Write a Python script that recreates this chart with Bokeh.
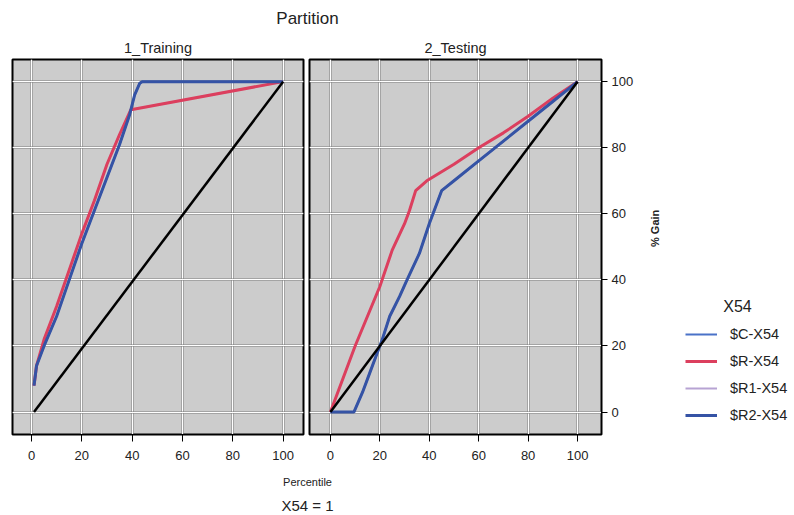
import math
from bokeh.plotting import figure
from bokeh.layouts import column, row
from bokeh.models import (Label, Legend, LegendItem, FixedTicker, Grid, Range1d)
from bokeh.embed import file_html
from bokeh.resources import INLINE

# ---------------- data ----------------
chart_title = "Partition"
panel_titles = ["1_Training", "2_Testing"]
x_label = "Percentile"
y_label = "% Gain"
footer_text = "X54 = 1"
legend_title = "X54"
x_ticks = [0, 20, 40, 60, 80, 100]
y_ticks = [0, 20, 40, 60, 80, 100]

series_names = ["$C-X54", "$R-X54", "$R1-X54", "$R2-X54"]
series_colors = ["#4a72c8", "#dc3f5e", "#b7a3d3", "#3553a5"]
series_widths = [2, 3, 2, 3]

# Training
train_base_pct = [1, 100]
train_base_gain = [0, 100]
train_R_pct = [1, 2, 5, 10, 15, 20, 25, 30, 35, 39.5, 100]
train_R_gain = [8, 14, 22, 32, 43, 54, 64, 75, 84, 91.5, 100]
train_C_pct = [1, 2, 5, 10, 15, 20, 25, 30, 35, 39, 41, 43, 44, 100]
train_C_gain = [8, 14, 20, 29, 40, 51, 61, 71, 81, 90, 96, 99.5, 100, 100]

# Testing
test_base_pct = [0, 100]
test_base_gain = [0, 100]
test_R_pct = [0, 5, 10, 15, 20, 25, 30, 32, 34.5, 39, 50, 60, 70, 80, 90, 100]
test_R_gain = [0, 10, 20, 29, 38, 49, 57, 61, 67, 70, 75, 80, 84.5, 89.5, 95, 100]
test_C_pct = [0, 9.5, 13, 16, 19, 21, 24, 28, 31, 36, 40, 45, 50, 60, 70, 80, 90, 100]
test_C_gain = [0, 0, 6, 12, 18, 22, 29, 35, 40, 48, 57, 67, 70, 76, 82, 88, 94, 100]

FONT = "Liberation Sans"
TXT = "#222222"
PANEL_H = 437


def make_panel(title, width, bl, br, xr, right_axis):
    p = figure(width=width, height=PANEL_H, output_backend="svg", toolbar_location=None,
               x_range=Range1d(*xr), y_range=Range1d(-6.8, 106.7),
               y_axis_location="right" if right_axis else None,
               min_border_left=bl, min_border_right=br, min_border_top=26, min_border_bottom=36,
               background_fill_color="#cccccc", border_fill_color="white",
               outline_line_color="black", outline_line_width=2, title=title)
    p.title.align = "center"
    p.title.text_font = FONT
    p.title.text_font_size = "14.5px"
    p.title.text_font_style = "normal"
    p.title.text_color = TXT
    p.title.standoff = 7
    p.grid.visible = False
    for dim, ticks in ((0, x_ticks), (1, y_ticks)):
        p.add_layout(Grid(dimension=dim, ticker=FixedTicker(ticks=ticks),
                          grid_line_color="#7c7c7c", grid_line_width=2))
        p.add_layout(Grid(dimension=dim, ticker=FixedTicker(ticks=ticks),
                          grid_line_color="white", grid_line_width=1))
    ax = p.xaxis[0]
    ax.ticker = FixedTicker(ticks=x_ticks)
    ax.major_label_text_font = FONT
    ax.major_label_text_font_size = "13px"
    ax.major_label_text_color = TXT
    ax.major_tick_out = 7
    ax.major_tick_in = 0
    ax.minor_tick_out = 0
    ax.minor_tick_in = 0
    ax.axis_line_color = "black"
    ax.major_tick_line_color = "black"
    ax.major_label_standoff = 9
    if right_axis:
        ay = p.yaxis[0]
        ay.ticker = FixedTicker(ticks=y_ticks)
        ay.major_label_text_font = FONT
        ay.major_label_text_font_size = "13px"
        ay.major_label_text_color = TXT
        ay.major_tick_out = 6
        ay.major_tick_in = 0
        ay.minor_tick_out = 0
        ay.minor_tick_in = 0
        ay.axis_line_color = "black"
        ay.major_label_standoff = 4
        ay.axis_label = y_label
        ay.axis_label_text_font = FONT
        ay.axis_label_text_font_size = "11px"
        ay.axis_label_text_font_style = "bold"
        ay.axis_label_text_color = TXT
        ay.axis_label_standoff = 19
        ay.axis_label_orientation = math.pi / 2
    return p


left = make_panel(panel_titles[0], 306, 12, 3, (-7.55, 108.1), False)
right = make_panel(panel_titles[1], 364, 3, 68, (-8.47, 109.7), True)


def draw(p, c_x, c_y, r_x, r_y, b_x, b_y):
    p.line(c_x, c_y, line_color=series_colors[0], line_width=series_widths[0])
    p.line(r_x, r_y, line_color=series_colors[2], line_width=series_widths[2])
    p.line(r_x, r_y, line_color=series_colors[1], line_width=series_widths[1])
    p.line(c_x, c_y, line_color=series_colors[3], line_width=series_widths[3])
    p.line(b_x, b_y, line_color="black", line_width=2.5)


draw(left, train_C_pct, train_C_gain, train_R_pct, train_R_gain, train_base_pct, train_base_gain)
draw(right, test_C_pct, test_C_gain, test_R_pct, test_R_gain, test_base_pct, test_base_gain)

# legend panel (its own canvas)
lg = figure(width=124, height=PANEL_H, output_backend="svg", toolbar_location=None,
            x_axis_location=None, y_axis_location=None,
            min_border_left=0, min_border_right=0, min_border_top=26, min_border_bottom=36,
            outline_line_color=None, background_fill_color="white", border_fill_color="white",
            x_range=Range1d(0, 1), y_range=Range1d(0, 1))
lg.grid.visible = False
nan = float("nan")
swatches = [lg.line([nan], [nan], line_color=c, line_width=w) for c, w in zip(series_colors, series_widths)]
legend = Legend(items=[LegendItem(label=n, renderers=[r]) for n, r in zip(series_names, swatches)],
                location=(15, 9), background_fill_alpha=0, border_line_color=None,
                label_text_font=FONT, label_text_font_size="14.5px", label_text_color=TXT,
                glyph_width=32, glyph_height=20, label_height=20, spacing=7,
                label_standoff=13, padding=10, margin=0)
lg.add_layout(legend)
lg.add_layout(Label(x=67, y=128, x_units="screen", y_units="screen", text=legend_title,
                    text_align="center", text_baseline="middle", text_font=FONT,
                    text_font_size="16px", text_color=TXT))


def text_fig(h):
    f = figure(width=794, height=h, output_backend="svg", toolbar_location=None,
               x_axis_location=None, y_axis_location=None, min_border=0,
               outline_line_color=None, x_range=Range1d(0, 1), y_range=Range1d(0, 1))
    f.grid.visible = False
    return f


header = text_fig(33)
header.add_layout(Label(x=307, y=15, x_units="screen", y_units="screen", text=chart_title,
                        text_align="center", text_baseline="middle", text_font=FONT,
                        text_font_size="17px", text_color=TXT))
footer = text_fig(45)
footer.add_layout(Label(x=307, y=34, x_units="screen", y_units="screen", text=x_label,
                        text_align="center", text_baseline="middle", text_font=FONT,
                        text_font_size="11px", text_color=TXT))
footer.add_layout(Label(x=307, y=10, x_units="screen", y_units="screen", text=footer_text,
                        text_align="center", text_baseline="middle", text_font=FONT,
                        text_font_size="15px", text_color=TXT))

layout = column(header, row(left, right, lg, spacing=0), footer, spacing=0)
open("out.html", "w").write(file_html(layout, INLINE))
